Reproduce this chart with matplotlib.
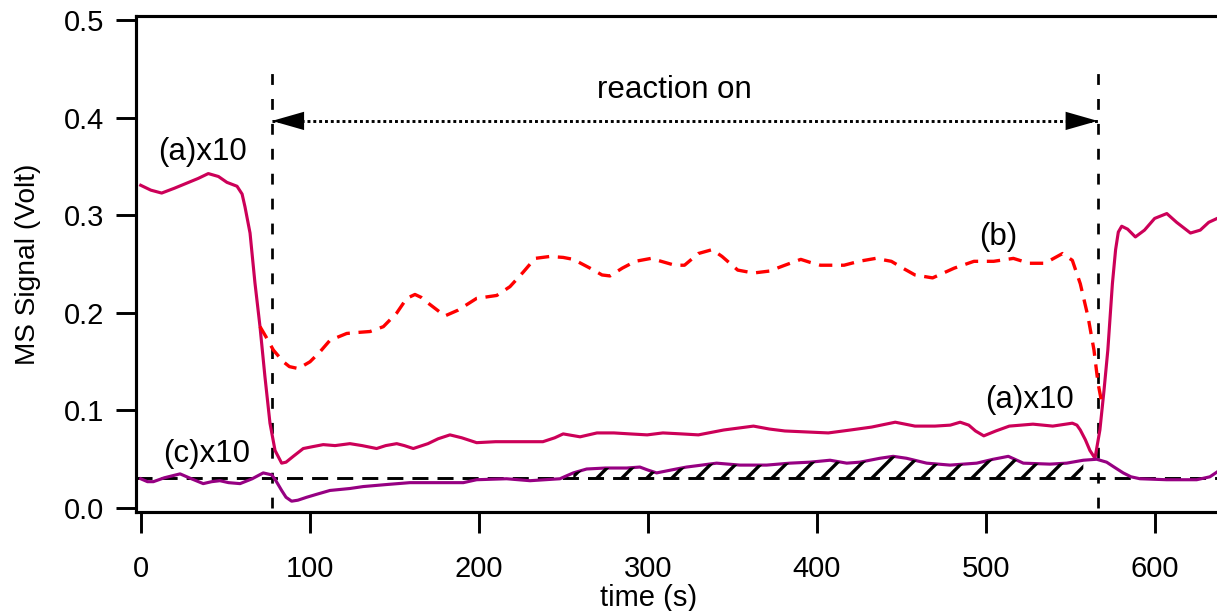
import numpy as np
import matplotlib
matplotlib.use("Agg")
import matplotlib.pyplot as plt

plt.rcParams["font.family"] = ["Liberation Sans", "DejaVu Sans"]
plt.rcParams["hatch.linewidth"] = 1.6

# (a) x10 trace, solid
a_time = [0, 6, 12.4, 20, 27, 34, 40, 46, 51, 57, 60, 61.7, 64.7, 67.6, 70.6, 73.5,
          76.5, 79.5, 83.4, 86, 90.3, 96.2, 102, 108, 115, 123.8, 131, 139.6, 145,
          151.5, 156, 161.3, 170, 176, 183, 190, 198.8, 210, 225, 238, 245, 250, 260,
          270, 280, 289.5, 299.7, 309, 320, 330, 345, 362.6, 372, 381.2, 394, 406.9,
          420, 432.5, 446.5, 458.2, 470, 479.1, 484.9, 490, 494, 498.9, 506, 514, 528,
          539.7, 551.3, 554, 556, 559, 561.7, 564.7, 567.6, 570, 572.3, 575, 576.9,
          578.5, 580.5, 584, 588.6, 594, 600, 607.2, 613, 621.2, 627, 632, 637]
a_signal = [0.331, 0.326, 0.323, 0.328, 0.333, 0.338, 0.343, 0.340, 0.334, 0.330, 0.322,
            0.309, 0.282, 0.231, 0.186, 0.135, 0.087, 0.059, 0.046, 0.047, 0.053, 0.061,
            0.063, 0.065, 0.064, 0.066, 0.064, 0.061, 0.064, 0.066, 0.064, 0.061, 0.066,
            0.071, 0.075, 0.072, 0.067, 0.068, 0.068, 0.068, 0.072, 0.076, 0.073, 0.077,
            0.077, 0.076, 0.075, 0.077, 0.076, 0.075, 0.080, 0.084, 0.081, 0.079, 0.078,
            0.077, 0.080, 0.083, 0.088, 0.084, 0.084, 0.085, 0.088, 0.085, 0.079, 0.074,
            0.079, 0.084, 0.086, 0.084, 0.087, 0.085, 0.080, 0.070, 0.059, 0.051, 0.080,
            0.120, 0.162, 0.230, 0.265, 0.283, 0.289, 0.286, 0.278, 0.285, 0.297, 0.302,
            0.293, 0.282, 0.285, 0.293, 0.297]

# (b) trace, dashed
b_time = [70.6, 74, 78.5, 84.4, 88, 93.3, 100.2, 106, 112, 121.9, 128, 135.7, 143.6,
          151.5, 157.4, 162.3, 166, 170.2, 180, 187.9, 198.8, 210.7, 218.5, 226.4, 233.3,
          242.2, 250, 256, 265.9, 273, 277.7, 285, 292.7, 302, 310, 316, 321.8, 330,
          338.2, 344, 353.3, 362.6, 372, 381.2, 390.6, 396, 402.2, 416.2, 425, 434.9,
          444.2, 452, 458.2, 468.6, 481.4, 493.1, 504.7, 516.4, 525.7, 535, 545.5,
          551.3, 556, 560.6, 564.1, 566.5, 568.8]
b_signal = [0.186, 0.176, 0.162, 0.150, 0.145, 0.143, 0.150, 0.160, 0.172, 0.179, 0.180,
            0.181, 0.186, 0.200, 0.215, 0.219, 0.216, 0.210, 0.197, 0.203, 0.215, 0.218,
            0.227, 0.242, 0.256, 0.258, 0.257, 0.255, 0.246, 0.239, 0.238, 0.246, 0.253,
            0.256, 0.252, 0.249, 0.249, 0.261, 0.265, 0.258, 0.244, 0.241, 0.243, 0.249,
            0.255, 0.252, 0.249, 0.249, 0.253, 0.256, 0.253, 0.245, 0.239, 0.236, 0.246,
            0.253, 0.253, 0.256, 0.251, 0.251, 0.261, 0.254, 0.230, 0.196, 0.162, 0.128,
            0.107]

# (c) x10 trace, solid
c_time = [0, 4, 7.5, 14, 23.3, 30, 37, 42, 46.9, 52, 58.8, 66, 72.5, 77.5, 80, 83.4, 86,
          89.3, 93, 98.2, 104, 112, 123.8, 131.7, 145, 159.3, 175, 190.9, 198.8, 216.5,
          230.4, 248.1, 252, 256, 263.9, 275, 287.6, 295.4, 300, 305.3, 314, 323, 332,
          340.8, 354.6, 370.4, 384.2, 396, 407.9, 417.8, 425.6, 437.4, 445.3, 453.2,
          465.1, 478.9, 494.7, 504.5, 513.4, 522.3, 538, 547.9, 557.8, 565.7, 571.6,
          576, 581.4, 586, 591.3, 607.1, 624.9, 632.7, 637]
c_signal = [0.030, 0.027, 0.027, 0.031, 0.035, 0.030, 0.025, 0.027, 0.028, 0.026, 0.025,
            0.030, 0.036, 0.034, 0.028, 0.018, 0.011, 0.007, 0.008, 0.011, 0.014, 0.018,
            0.020, 0.022, 0.024, 0.026, 0.026, 0.026, 0.029, 0.030, 0.028, 0.030, 0.033,
            0.036, 0.040, 0.041, 0.041, 0.042, 0.039, 0.036, 0.039, 0.042, 0.044, 0.046,
            0.044, 0.044, 0.046, 0.047, 0.049, 0.046, 0.047, 0.051, 0.053, 0.051, 0.046,
            0.044, 0.046, 0.050, 0.053, 0.046, 0.045, 0.046, 0.049, 0.050, 0.047, 0.042,
            0.036, 0.032, 0.030, 0.029, 0.029, 0.032, 0.037]

baseline = 0.031
t_on, t_off = 77.7, 566.3
marker_top = 0.458
arrow_y = 0.397
hatch_start, hatch_end = 256, 562

a_color = "#cc0058"
c_color = "#960082"

fig = plt.figure(figsize=(1217 / 150, 611 / 150), dpi=150)
ax = fig.add_axes([0.11175, 0.16203, 0.88825, 0.81178])

ax.plot(a_time, a_signal, color=a_color, lw=1.5, zorder=3)
ax.plot(b_time, b_signal, color="red", lw=1.6, dashes=(4, 2.6), zorder=3)
ax.plot(c_time, c_signal, color=c_color, lw=1.5, zorder=3)

# hatched area between the (c) trace and its baseline
ct = np.array(c_time)
cs = np.array(c_signal)
sel = (ct >= hatch_start) & (ct <= hatch_end)
ax.fill_between(ct[sel], baseline, cs[sel], facecolor="none", edgecolor="black",
                hatch="//", linewidth=0, zorder=4)

# baseline and reaction on/off markers
ax.axhline(baseline, color="black", lw=1.4, dashes=(5.5, 3.1), zorder=2)
for t in (t_on, t_off):
    ax.plot([t, t], [0, marker_top], color="black", lw=1.3, dashes=(4, 5.2), zorder=2)

ax.plot([t_on, t_off], [arrow_y, arrow_y], color="black", lw=1.4,
        dashes=(1, 1), dash_capstyle="butt", zorder=2)
for tip, back in ((t_on, 15.4), (t_off, -15.4)):
    ax.annotate("", xy=(tip, arrow_y), xytext=(back, 0), textcoords="offset points",
                arrowprops=dict(arrowstyle="-|>,head_length=15.4,head_width=4.4",
                                mutation_scale=1, fc="black", ec="black", lw=0,
                                shrinkA=0, shrinkB=0))

ax.text(315.6, 0.421, "reaction on", fontsize=15, ha="center", va="baseline")
ax.text(36.3, 0.357, "(a)x10", fontsize=15, ha="center", va="baseline")
ax.text(507.4, 0.270, "(b)", fontsize=15, ha="center", va="baseline")
ax.text(526, 0.1026, "(a)x10", fontsize=15, ha="center", va="baseline")
ax.text(39.3, 0.047, "(c)x10", fontsize=15, ha="center", va="baseline")

ax.set_xlim(-2.78, 636.9)
ax.set_ylim(-0.0041, 0.5046)
ax.set_xticks([0, 100, 200, 300, 400, 500, 600])
ax.set_yticks([0.0, 0.1, 0.2, 0.3, 0.4, 0.5])
ax.yaxis.set_major_formatter(matplotlib.ticker.FormatStrFormatter("%.1f"))

ax.spines["right"].set_visible(False)
for side in ("left", "bottom", "top"):
    ax.spines[side].set_linewidth(1.5)
ax.tick_params(axis="x", direction="out", length=10, width=1.4, pad=10.5, labelsize=14)
ax.tick_params(axis="y", direction="out", length=9.6, width=1.4, pad=5.8, labelsize=14)

ax.set_xlabel("time (s)", fontsize=14)
ax.set_ylabel("MS Signal (Volt)", fontsize=13.5)
ax.xaxis.set_label_coords(0.474, -0.173)
ax.xaxis.label.set_va("center")
ax.yaxis.set_label_coords(-0.1, 0.5)
ax.yaxis.label.set_va("center")

fig.savefig("out.png", dpi=150)
